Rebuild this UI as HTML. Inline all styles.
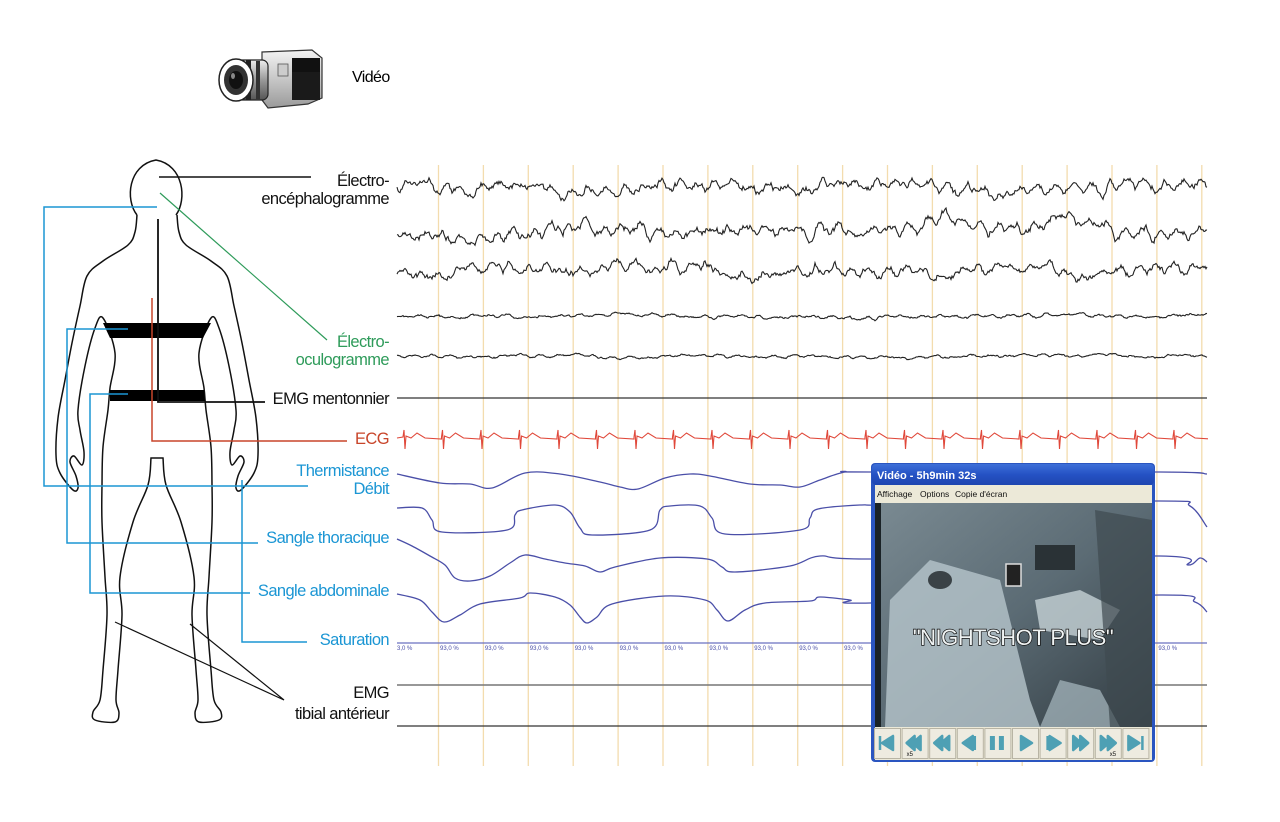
<!DOCTYPE html>
<html><head><meta charset="utf-8"><style>
html,body{margin:0;padding:0;background:#fff;width:1280px;height:822px;overflow:hidden}
svg{display:block}
text{font-family:"Liberation Sans",sans-serif}
.lb{font-size:16.5px;text-anchor:end;letter-spacing:-0.6px}
.sat{font-size:6px;fill:#4a4fa8;font-family:"Liberation Sans Narrow","Liberation Sans",sans-serif}
</style></head><body>
<svg id="s" width="1280" height="822" viewBox="0 0 1280 822" xmlns="http://www.w3.org/2000/svg">
<defs>
<linearGradient id="tb" x1="0" y1="0" x2="0" y2="1"><stop offset="0" stop-color="#3d6fd8"/><stop offset="0.5" stop-color="#2552c4"/><stop offset="1" stop-color="#1e45b0"/></linearGradient>
<linearGradient id="vid" x1="0" y1="0" x2="1" y2="1"><stop offset="0" stop-color="#7a8a92"/><stop offset="0.5" stop-color="#5b6b74"/><stop offset="1" stop-color="#323c42"/></linearGradient>
<linearGradient id="lens" x1="0" y1="0" x2="0" y2="1"><stop offset="0" stop-color="#eee"/><stop offset="0.5" stop-color="#999"/><stop offset="1" stop-color="#555"/></linearGradient>
<linearGradient id="cam" x1="0" y1="0" x2="0" y2="1"><stop offset="0" stop-color="#f4f4f4"/><stop offset="1" stop-color="#9a9a9a"/></linearGradient>
<clipPath id="wc"><rect x="390" y="150" width="818" height="640"/></clipPath>
</defs>
<g id="grid" stroke="#f3dcae" stroke-width="1.3"></g>
<g id="waves" fill="none" clip-path="url(#wc)"></g>

<!-- camera -->
<g>
<path d="M262 52 L312 50 L322 58 L322 98 L308 104 L268 108 L262 100 Z" fill="url(#cam)" stroke="#333" stroke-width="1.2"/>
<rect x="292" y="58" width="28" height="18" fill="#111"/>
<rect x="292" y="72" width="28" height="28" fill="#1a1a1a"/>
<rect x="278" y="64" width="10" height="12" fill="#ccc" stroke="#555" stroke-width="0.8"/>
<rect x="236" y="60" width="32" height="40" rx="6" fill="url(#lens)" stroke="#222" stroke-width="1.2"/>
<rect x="246" y="60" width="5" height="40" fill="#222"/>
<rect x="256" y="61" width="4" height="38" fill="#333"/>
<ellipse cx="236" cy="80" rx="17" ry="21" fill="#fff" stroke="#222" stroke-width="1.5"/>
<ellipse cx="236" cy="80" rx="12" ry="15" fill="#333"/>
<ellipse cx="236" cy="80" rx="7" ry="9" fill="#111"/>
<ellipse cx="233" cy="76" rx="2" ry="3" fill="#888"/>
</g>
<text x="352" y="82" style="font-size:16px;letter-spacing:-0.6px">Vidéo</text>

<!-- body -->
<path d="M137 215 C125 200 128 165 156 160 C184 165 187 200 176 215" fill="none" stroke="#111" stroke-width="1.5"/>
<path id="body" fill="none" stroke="#111" stroke-width="1.5"/>
<polygon points="103,323 211,323 203,338 110,338" fill="#000"/>
<polygon points="110,390 204,390 205,401 110,401" fill="#000"/>

<!-- connectors -->
<g fill="none" stroke-width="1.5">
<path d="M159 177 H311" stroke="#111"/>
<path d="M157 207 H44 V486 H308" stroke="#1b96d4"/>
<path d="M160 193 L327 340" stroke="#2e9b5a" stroke-width="1.2"/>
<path d="M158 219 V402 H265" stroke="#111" stroke-width="1.8"/>
<path d="M152 298 V441 H347" stroke="#c8452a"/>
<path d="M128 329 H67 V543 H258" stroke="#1b96d4"/>
<path d="M128 394 H90 V593 H250" stroke="#1b96d4"/>
<path d="M242 480 V642 H307" stroke="#1b96d4"/>
<path d="M115 622 L284 700 L190 624" stroke="#111" stroke-width="1.2"/>
</g>

<g>
<text x="389" y="186" class="lb" fill="#111">Électro-</text>
<text x="389" y="204" class="lb" fill="#111">encéphalogramme</text>
<text x="389" y="347" class="lb" fill="#2e9b5a">Électro-</text>
<text x="389" y="365" class="lb" fill="#2e9b5a">oculogramme</text>
<text x="389" y="404" class="lb" fill="#111">EMG mentonnier</text>
<text x="389" y="444" class="lb" fill="#c8452a">ECG</text>
<text x="389" y="476" class="lb" fill="#1b96d4">Thermistance</text>
<text x="389" y="494" class="lb" fill="#1b96d4">Débit</text>
<text x="389" y="543" class="lb" fill="#1b96d4">Sangle thoracique</text>
<text x="389" y="596" class="lb" fill="#1b96d4">Sangle abdominale</text>
<text x="389" y="645" class="lb" fill="#1b96d4">Saturation</text>
<text x="389" y="698" class="lb" fill="#111">EMG</text>
<text x="389" y="719" class="lb" fill="#111">tibial antérieur</text>
</g>

<!-- video window -->
<g>
<rect x="871" y="463" width="284" height="299" rx="4" fill="#2a55c0"/>
<rect x="872" y="464" width="282" height="21" rx="4" fill="url(#tb)"/>
<text x="877" y="479" fill="#fff" style="font-size:11px;font-weight:bold">Vidéo - 5h9min 32s</text>
<rect x="875" y="485" width="277" height="18" fill="#ece9d8"/>
<text x="877" y="497" fill="#111" style="font-size:8.5px">Affichage</text>
<text x="920" y="497" fill="#111" style="font-size:8.5px">Options</text>
<text x="955" y="497" fill="#111" style="font-size:8.5px">Copie d'écran</text>
<rect x="875" y="503" width="277" height="224" fill="url(#vid)"/>
<rect x="875" y="503" width="6" height="224" fill="#1a2226"/>
<path d="M885 727 L890 600 L930 560 L1000 580 L1030 700 L1040 727 Z" fill="#b7c6cc" opacity="0.8"/>
<path d="M1040 727 L1060 680 L1100 690 L1120 727 Z" fill="#aabbc2" opacity="0.7"/>
<path d="M1035 600 L1080 590 L1120 610 L1100 640 L1040 630 Z" fill="#c5d2d6" opacity="0.8"/>
<rect x="1035" y="545" width="40" height="25" fill="#2a3236"/>
<path d="M1095 510 L1152 520 L1152 727 L1110 727 Z" fill="#3e4a50" opacity="0.7"/>
<ellipse cx="940" cy="580" rx="12" ry="9" fill="#3a4246"/>
<rect x="1006" y="564" width="15" height="22" fill="#222" stroke="#ddd" stroke-width="1.5"/>
<text x="1013" y="645" text-anchor="middle" fill="#f0f4f4" stroke="#111" stroke-width="1.4" paint-order="stroke" style="font-size:22px;letter-spacing:-0.5px">"NIGHTSHOT PLUS"</text>
<rect x="875" y="727" width="277" height="33" fill="#ece9d8"/>
<g id="btns"></g>
</g>
<g id="satl"></g>
</svg>
<script>
(function(){
var NS="http://www.w3.org/2000/svg";
function el(p,t,a,txt){var e=document.createElementNS(NS,t);for(var k in a)e.setAttribute(k,a[k]);if(txt)e.textContent=txt;p.appendChild(e);return e;}
var s=1234567;function rnd(){s^=s<<13;s^=s>>>17;s^=s<<5;return ((s>>>0)%100000)/100000;}
var grid=document.getElementById('grid');
for(var i=0;i<18;i++){var x=438.5+i*44.9;el(grid,'line',{x1:x,y1:165,x2:x,y2:766});}
var W=document.getElementById('waves');
function eeg(base,amp,rough){var d='',v=0,w=0,lf=0;for(var x=397;x<=1207;x+=1){v=v*0.75+(rnd()-0.5)*rough;w=w*0.93+(rnd()-0.5)*0.35;lf=lf*0.985+(rnd()-0.5)*0.12;var y=base+amp*(w+lf*2+0.35*Math.sin(x*0.35+base))+v;d+=(x==397?'M':'L')+x+' '+y.toFixed(1);}el(W,'path',{d:d,stroke:'#222','stroke-width':1.1});}
eeg(188,10,3.5);eeg(233,11,3.5);eeg(272,9,3.5);eeg(317,3,1.2);eeg(356,2.5,1);
el(W,'line',{x1:397,y1:398,x2:1207,y2:398,stroke:'#333','stroke-width':1.3});
el(W,'line',{x1:397,y1:685,x2:1207,y2:685,stroke:'#777','stroke-width':1.6});
el(W,'line',{x1:397,y1:726,x2:1207,y2:726,stroke:'#333','stroke-width':1.3});
var d='M397 438';var px=403;while(px<1207){d+=' L'+(px)+' 437 L'+(px+1)+' 430 L'+(px+2)+' 449 L'+(px+3)+' 436 L'+(px+8)+' 438 L'+(px+14)+' 433 L'+(px+22)+' 438 L'+(px+38.5)+' 439';px+=38.5;}
el(W,'path',{d:d,stroke:'#e0483a','stroke-width':1.1});
function cr(pts){var d='M'+pts[0][0]+' '+pts[0][1];for(var i=0;i<pts.length-1;i++){var p0=pts[i-1]||pts[i],p1=pts[i],p2=pts[i+1],p3=pts[i+2]||p2;d+=' C'+(p1[0]+(p2[0]-p0[0])/6)+' '+(p1[1]+(p2[1]-p0[1])/6)+' '+(p2[0]-(p3[0]-p1[0])/6)+' '+(p2[1]-(p3[1]-p1[1])/6)+' '+p2[0]+' '+p2[1];}return d;}
var B='#4a4fa8';
el(W,'path',{d:cr([[397,474],[440,483],[470,484],[492,488],[525,473],[560,474],[600,482],[620,487],[638,489],[665,478],[690,474],[710,476],[750,484],[780,485],[800,487],[820,480],[845,472],[870,472],[1160,472],[1207,474]]),stroke:B,'stroke-width':1.3});
el(W,'path',{d:cr([[397,508],[422,508],[432,520],[442,532],[507,530],[515,515],[522,510],[555,505],[570,512],[580,528],[592,535],[650,530],[660,510],[670,506],[700,506],[712,518],[725,534],[800,530],[810,518],[818,509],[860,505],[900,505],[1160,501],[1190,506],[1207,527]]),stroke:B,'stroke-width':1.3});
el(W,'path',{d:cr([[397,539],[412,546],[430,556],[445,565],[455,578],[470,581],[490,576],[510,563],[525,555],[545,559],[565,563],[585,566],[600,572],[615,567],[660,558],[707,559],[722,567],[735,572],[790,566],[820,556],[870,559],[1160,556],[1188,565],[1200,558],[1207,562]]),stroke:B,'stroke-width':1.3});
el(W,'path',{d:cr([[397,594],[420,600],[432,612],[444,622],[460,615],[480,604],[520,598],[530,593],[555,597],[570,605],[580,617],[587,623],[597,617],[612,604],[665,596],[705,600],[717,610],[728,621],[745,610],[765,603],[810,601],[820,597],[850,600],[870,603],[1160,595],[1195,602],[1207,612]]),stroke:B,'stroke-width':1.3});
el(W,'line',{x1:397,y1:643,x2:1207,y2:643,stroke:'#6a70c0','stroke-width':1.3});
var sl=document.getElementById('satl');
el(sl,'text',{x:397,y:650,'class':'sat'},'3,0 %');
for(var i=0;i<18;i++){var x=440+i*44.9;if(x>868&&x<1157)continue;if(x>1200)continue;el(sl,'text',{x:x,y:650,'class':'sat'},'93,0 %');}
var L=[[137,215],[135,232],[128,245],[103,261],[87,276],[80,306],[72,343],[65,380],[58,418],[56,455],[60,473],[73,490],[78,488],[76,476],[70,462],[74,456],[82,465],[84,452],[80,430],[78,410],[85,366],[95,328],[103,318],[115,353],[110,388],[108,410],[103,447],[102,485],[102,522],[105,577],[107,615],[103,670],[100,700],[93,712],[95,720],[115,722],[119,713],[116,700],[118,670],[122,615],[120,577],[133,522],[148,485],[151,458]];
var R=L.slice().reverse().map(function(p){return [314-p[0],p[1]];});
document.getElementById('body').setAttribute('d',cr(L)+' L163 458 '+cr(R).replace(/^M/,'L'));
var bt=document.getElementById('btns');var ic=['M6 8 V22 M8 15 L19 8 V22 Z','M5 15 L13 8 V22 Z M11 15 L19 8 V22 Z M19 8 V22','M5 15 L13 8 V22 Z M12 15 L20 8 V22 Z','M6 15 L16 8 V22 Z M18 8 V22','M8 8 V22 M17 8 V22','M9 8 L20 15 L9 22 Z','M8 8 V22 M10 8 L21 15 L10 22 Z','M6 8 L14 15 L6 22 Z M13 8 L21 15 L13 22 Z','M6 8 L14 15 L6 22 Z M13 8 L21 15 L13 22 Z','M6 8 L17 15 L6 22 Z M20 8 V22'];
for(var i=0;i<10;i++){var x=874+i*27.6;var g=el(bt,'g',{transform:'translate('+x+',728)'});el(g,'rect',{x:0.5,y:0.5,width:26,height:30,fill:'#eeebe0',stroke:'#b8b4a4'});el(g,'path',{d:ic[i],fill:'#4ea0b4',stroke:'#4ea0b4','stroke-width':(i==4?5:2.5),'stroke-linejoin':'round'});if(i==1||i==8)el(g,'text',{x:(i==1?5:15),y:28,style:'font-size:6px',fill:'#111'},'x5');}
})();
</script>
</body></html>
